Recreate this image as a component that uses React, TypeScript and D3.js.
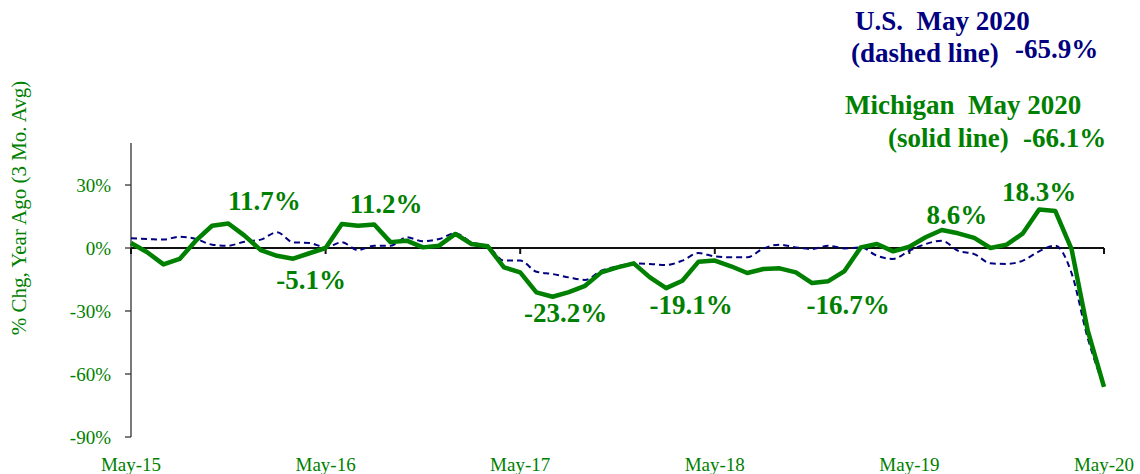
import { useEffect, useRef } from "react";
import * as d3 from "d3";

// monthly, May-15 .. May-20 (3 mo. avg, % chg year ago)
const michigan = [
  2.4, -2, -7.8, -5.2, 3.5, 10.6, 11.7, 5.9, -1, -3.7, -5.1,
  -2.5, 0, 11.4, 10.6, 11.2, 2.8, 3.5, 0.3, 1.1, 6.7, 1.9, 0.8,
  -9.2, -11.6, -21.1, -23.2, -21, -18, -11.6, -9.2, -7.3, -14, -19.1, -15.6,
  -6.5, -6, -8.7, -11.9, -10, -9.7, -11.6, -16.7, -15.8, -11, 0.3, 1.9,
  -1.6, 0.6, 5.1, 8.6, 7, 4.8, 0, 1.6, 7, 18.3, 17.6, -0.5,
  -39.4, -66.1,
];
const us = [
  4.6, 4.3, 4, 5.4, 4.3, 1.6, 1.1, 3, 4, 7.5, 2.7,
  2.4, 0.3, 2.7, -1, 1.1, 1.1, 5.1, 3.2, 4.3, 7, 2.7, 0.8,
  -6, -6, -11.3, -12.4, -14, -15.2, -10.8, -8.7, -7.3, -7.6, -8.1, -6,
  -2.4, -4, -4.4, -4.4, -0.2, 1.6, 0.3, -0.5, 1.1, -0.2, 0.3, -3.7,
  -5.2, -1.3, 1.9, 3.5, -1.3, -2.9, -7.3, -7.6, -6, -1.6, 1.1, -12,
  -43, -65.9,
];
const yearLabels = ["May-15", "May-16", "May-17", "May-18", "May-19", "May-20"];
const yTicks = [-90, -60, -30, 0, 30];

// peak / trough call-outs: month index + text, offsets from the point
const callouts = [
  { i: 6, text: "11.7%", dx: 36, dy: -13 },
  { i: 10, text: "-5.1%", dx: 18, dy: 30 },
  { i: 15, text: "11.2%", dx: 12, dy: -11 },
  { i: 26, text: "-23.2%", dx: 13, dy: 25 },
  { i: 33, text: "-19.1%", dx: 25, dy: 26 },
  { i: 42, text: "-16.7%", dx: 36, dy: 31 },
  { i: 50, text: "8.6%", dx: 15, dy: -6 },
  { i: 56, text: "18.3%", dx: 0, dy: -9 },
];

const GREEN = "#008000";
const NAVY = "#000080";
const FONT = "'Liberation Serif', 'Times New Roman', serif";

export default function App() {
  const svgRef = useRef<SVGSVGElement>(null);

  useEffect(() => {
    if (!svgRef.current) return;
    const svg = d3.select(svgRef.current);
    svg.selectAll("*").remove();

    const x = d3.scaleLinear().domain([0, michigan.length - 1]).range([131, 1104]);
    const y = d3.scaleLinear().domain([-90, 50]).range([437, 143]);

    // y axis
    const yAx = svg.append("g").attr("transform", `translate(${x(0)},0)`);
    yAx.append("line")
      .attr("y1", y(50)).attr("y2", y(-90))
      .attr("stroke", "#333").attr("stroke-width", 1.3);
    yAx.selectAll("line.tk")
      .data(yTicks)
      .join("line")
      .attr("class", "tk")
      .attr("x1", -6).attr("x2", 0)
      .attr("y1", (d) => y(d)).attr("y2", (d) => y(d))
      .attr("stroke", "#333").attr("stroke-width", 1.3);
    yAx.selectAll("text")
      .data(yTicks)
      .join("text")
      .attr("x", -20).attr("y", (d) => y(d) + 7)
      .attr("text-anchor", "end")
      .attr("fill", GREEN)
      .style("font", `19px ${FONT}`)
      .text((d) => `${d}%`);

    // zero line (category axis) with yearly ticks
    svg.append("line")
      .attr("x1", x(0)).attr("x2", x(60))
      .attr("y1", y(0)).attr("y2", y(0))
      .attr("stroke", "#111").attr("stroke-width", 2);
    svg.append("g").selectAll("line")
      .data(yearLabels)
      .join("line")
      .attr("x1", (_, k) => x(k * 12)).attr("x2", (_, k) => x(k * 12))
      .attr("y1", y(0)).attr("y2", y(0) + 6)
      .attr("stroke", "#111").attr("stroke-width", 2);
    svg.append("g").selectAll("text")
      .data(yearLabels)
      .join("text")
      .attr("x", (_, k) => x(k * 12)).attr("y", 471)
      .attr("text-anchor", "middle")
      .attr("fill", GREEN)
      .style("font", `19px ${FONT}`)
      .text((d) => d);

    // y axis title
    svg.append("text")
      .attr("transform", "translate(26,208) rotate(-90)")
      .attr("text-anchor", "middle")
      .attr("fill", GREEN)
      .style("font", `21px ${FONT}`)
      .text("% Chg, Year Ago (3 Mo. Avg)");

    // U.S. dashed
    const usLine = d3.line<number>().x((_, i) => x(i)).y((d) => y(d)).curve(d3.curveMonotoneX);
    svg.append("path")
      .datum(us)
      .attr("fill", "none")
      .attr("stroke", NAVY)
      .attr("stroke-width", 2)
      .attr("stroke-dasharray", "6,4")
      .attr("d", usLine);

    // Michigan solid
    const miLine = d3.line<number>().x((_, i) => x(i)).y((d) => y(d));
    svg.append("path")
      .datum(michigan)
      .attr("fill", "none")
      .attr("stroke", GREEN)
      .attr("stroke-width", 4.5)
      .attr("stroke-linejoin", "round")
      .attr("d", miLine);

    // call-outs
    svg.append("g").selectAll("text")
      .data(callouts)
      .join("text")
      .attr("x", (d) => x(d.i) + d.dx)
      .attr("y", (d) => y(michigan[d.i]) + d.dy)
      .attr("text-anchor", "middle")
      .attr("fill", GREEN)
      .style("font", `bold 27px ${FONT}`)
      .text((d) => d.text);

    // legend notes
    const notes = [
      { t: "U.S.  May 2020", x: 855, y: 30, c: NAVY },
      { t: "(dashed line)", x: 851, y: 62, c: NAVY },
      { t: "-65.9%", x: 1015, y: 58, c: NAVY },
      { t: "Michigan  May 2020", x: 845, y: 114, c: GREEN },
      { t: "(solid line)", x: 888, y: 147, c: GREEN },
      { t: "-66.1%", x: 1023, y: 147, c: GREEN },
    ];
    svg.append("g").selectAll("text")
      .data(notes)
      .join("text")
      .attr("x", (d) => d.x).attr("y", (d) => d.y)
      .attr("fill", (d) => d.c)
      .style("font", `bold 27px ${FONT}`)
      .style("white-space", "pre")
      .text((d) => d.t);
  }, []);

  return (
    <svg
      ref={svgRef}
      width={1140}
      height={474}
      style={{ position: "absolute", left: 0, top: 0, background: "white" }}
    />
  );
}
